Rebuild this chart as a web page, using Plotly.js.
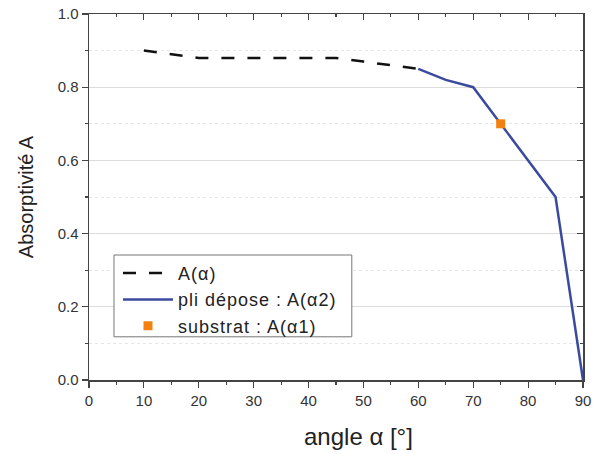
<!DOCTYPE html>
<html>
<head>
<meta charset="utf-8">
<script src="https://cdn.plot.ly/plotly-3.0.1.min.js"></script>
<style>html,body{margin:0;padding:0;background:#fff;}#chart{width:598px;height:454px;}
.legendtext{letter-spacing:1.0px;}</style>
</head>
<body>
<div id="chart"></div>
<script>
const angleDashed = [10, 15, 20, 25, 30, 35, 40, 45, 50, 55, 60];
const absDashed   = [0.90, 0.89, 0.88, 0.88, 0.88, 0.88, 0.88, 0.88, 0.87, 0.86, 0.85];
const angleSolid  = [60, 65, 70, 75, 85, 90];
const absSolid    = [0.85, 0.82, 0.80, 0.70, 0.50, 0.0];
const angleSub    = [75];
const absSub      = [0.70];
const seriesNames = ['A(α)', 'pli dépose : A(α2)', 'substrat : A(α1)'];
const xTitle = 'angle α [°]';
const yTitle = 'Absorptivité A';

const traces = [
  {x: angleDashed, y: absDashed, type: 'scatter', mode: 'lines', name: seriesNames[0],
   line: {color: '#111111', width: 2.5, dash: '13px,13px'}},
  {x: angleSolid, y: absSolid, type: 'scatter', mode: 'lines', name: seriesNames[1],
   line: {color: '#3a4a9e', width: 2.5}},
  {x: angleSub, y: absSub, type: 'scatter', mode: 'markers', name: seriesNames[2],
   marker: {symbol: 'square', size: 9, color: '#f28110'}},
  {x: [0], y: [0], xaxis: 'x2', yaxis: 'y2', mode: 'markers', marker: {opacity: 0}, showlegend: false, hoverinfo: 'skip'}
];

const axColor = '#444';
const layout = {
  width: 598, height: 454,
  margin: {l: 89, r: 15, t: 14, b: 74},
  paper_bgcolor: '#fff', plot_bgcolor: '#fff',
  font: {family: 'Liberation Sans, Arial, sans-serif', color: '#222'},
  showlegend: true,
  legend: {x: 0.0587, y: 0.342, xanchor: 'left', yanchor: 'top',
           borderwidth: 0, bgcolor: 'rgba(0,0,0,0)',
           font: {size: 18, color: '#222'}, tracegroupgap: 0, itemwidth: 50},
  shapes: [
    {type: 'rect', xref: 'paper', yref: 'paper', x0: 0.0506, x1: 0.532, y0: 0.118, y1: 0.3415,
     fillcolor: '#fff', line: {color: '#777', width: 1}, layer: 'above'}
  ],
  annotations: [
    {text: xTitle, xref: 'paper', yref: 'paper', x: 0.545, y: -0.155, xanchor: 'center', yanchor: 'middle',
     showarrow: false, font: {size: 24, color: '#222'}}
  ],
  xaxis: {range: [0, 90], dtick: 10, tick0: 0, showgrid: false, zeroline: false,
          showline: true, linecolor: axColor, linewidth: 1.5,
          ticks: 'outside', ticklen: 6, tickwidth: 1.2, tickcolor: axColor,
          minor: {dtick: 5, ticks: 'outside', ticklen: 3, tickcolor: axColor, showgrid: false},
          tickfont: {size: 15, color: '#333'}},
  yaxis: {range: [0, 1.0], dtick: 0.2, tick0: 0, tickformat: '.1f', zeroline: false,
          showgrid: true, gridcolor: '#dcdcdc', gridwidth: 1.2,
          showline: true, linecolor: axColor, linewidth: 1.5,
          ticks: 'outside', ticklen: 6, tickwidth: 1.2, tickcolor: axColor,
          minor: {dtick: 0.1, ticks: 'outside', ticklen: 3, tickcolor: axColor,
                  showgrid: true, gridcolor: '#e6e6e6', griddash: 'dot', gridwidth: 1},
          tickfont: {size: 15, color: '#333'},
          title: {text: yTitle, font: {size: 20, color: '#222'}, standoff: 18}},
  xaxis2: {overlaying: 'x', side: 'top', anchor: 'y2', range: [0, 90], dtick: 10, tick0: 0,
           showticklabels: false, showgrid: false, zeroline: false,
           showline: true, linecolor: axColor, linewidth: 1.5,
           ticks: 'inside', ticklen: 6, tickwidth: 1.2, tickcolor: axColor,
           minor: {dtick: 5, ticks: 'inside', ticklen: 3, tickcolor: axColor, showgrid: false}},
  yaxis2: {overlaying: 'y', side: 'right', anchor: 'x2', range: [0, 1.0], dtick: 0.2, tick0: 0,
           showticklabels: false, showgrid: false, zeroline: false,
           showline: true, linecolor: axColor, linewidth: 1.5,
           ticks: 'inside', ticklen: 6, tickwidth: 1.2, tickcolor: axColor,
           minor: {dtick: 0.1, ticks: 'inside', ticklen: 3, tickcolor: axColor, showgrid: false}}
};

Plotly.newPlot('chart', traces, layout, {displayModeBar: false, staticPlot: true});
</script>
</body>
</html>
